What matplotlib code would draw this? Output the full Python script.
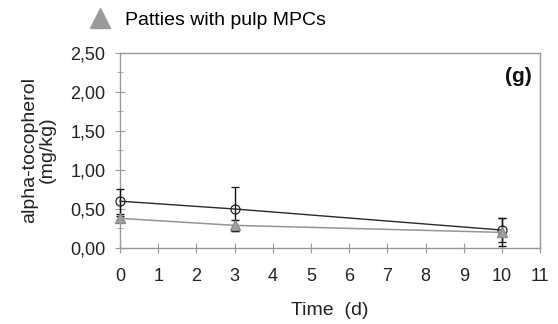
import matplotlib.pyplot as plt
from matplotlib.lines import Line2D
from matplotlib.ticker import MultipleLocator, FuncFormatter

plt.rcParams['font.family'] = ['Liberation Sans', 'DejaVu Sans']

# storage time (days)
days = [0, 3, 10]
# patties (circle series)
control = [0.60, 0.50, 0.23]
control_err = [0.16, 0.28, 0.15]
# patties with pulp MPCs (triangle series)
pulp = [0.38, 0.29, 0.20]
pulp_err = [0.03, 0.07, 0.18]

fig = plt.figure(figsize=(5.58, 3.24), dpi=100)
ax = fig.add_axes([0.215, 0.2346, 0.753, 0.6019])

ax.errorbar(days, control, yerr=control_err, color='#2a2a2a', lw=1.0,
            marker='o', ms=6.5, mfc='none', mec='#222222', mew=0.9,
            ecolor='#111111', elinewidth=1.0, capsize=3, capthick=1.0,
            zorder=3, clip_on=False)
ax.errorbar(days, pulp, yerr=pulp_err, color='#959595', lw=1.1,
            marker='^', ms=7, mfc='#a0a0a0', mec='#8a8a8a',
            ecolor='#111111', elinewidth=1.0, capsize=3, capthick=1.0,
            zorder=4, clip_on=False)

ax.set_xlim(0, 11)
ax.set_ylim(0, 2.5)
ax.xaxis.set_major_locator(MultipleLocator(1))
ax.yaxis.set_major_locator(MultipleLocator(0.5))
ax.yaxis.set_minor_locator(MultipleLocator(0.25))
ax.yaxis.set_major_formatter(FuncFormatter(lambda v, p: f'{v:.2f}'.replace('.', ',')))

for s in ax.spines.values():
    s.set_color('#999999')
    s.set_linewidth(1.0)
ax.tick_params(axis='both', which='major', direction='inout', length=7,
               color='#999999', labelsize=13, labelcolor='#222222')
ax.tick_params(axis='y', which='minor', direction='inout', length=4, color='#999999')
ax.tick_params(axis='y', pad=7)
ax.tick_params(axis='x', pad=11)

ax.set_xlabel('Time  (d)', fontsize=14, color='#222222', va='center')
ax.xaxis.set_label_coords(0.5, -0.323)
ax.set_ylabel('alpha-tocopherol\n(mg/kg)', fontsize=14, color='#222222',
              va='center', ha='center', linespacing=1.05)
ax.yaxis.set_label_coords(-0.195, 0.503)

ax.text(0.98, 0.877, '(g)', transform=ax.transAxes, ha='right', va='center',
        fontsize=15, fontweight='bold', color='#111111')

handle = Line2D([], [], ls='none', marker='^', ms=15, mfc='#9a9a9a', mec='#9a9a9a')
fig.legend([handle], ['Patties with pulp MPCs'], loc='center left',
           bbox_to_anchor=(0.1445, 0.938), frameon=False, fontsize=14,
           handlelength=1.2, handletextpad=0.69, borderaxespad=0)

fig.savefig('out.png', dpi=100)
